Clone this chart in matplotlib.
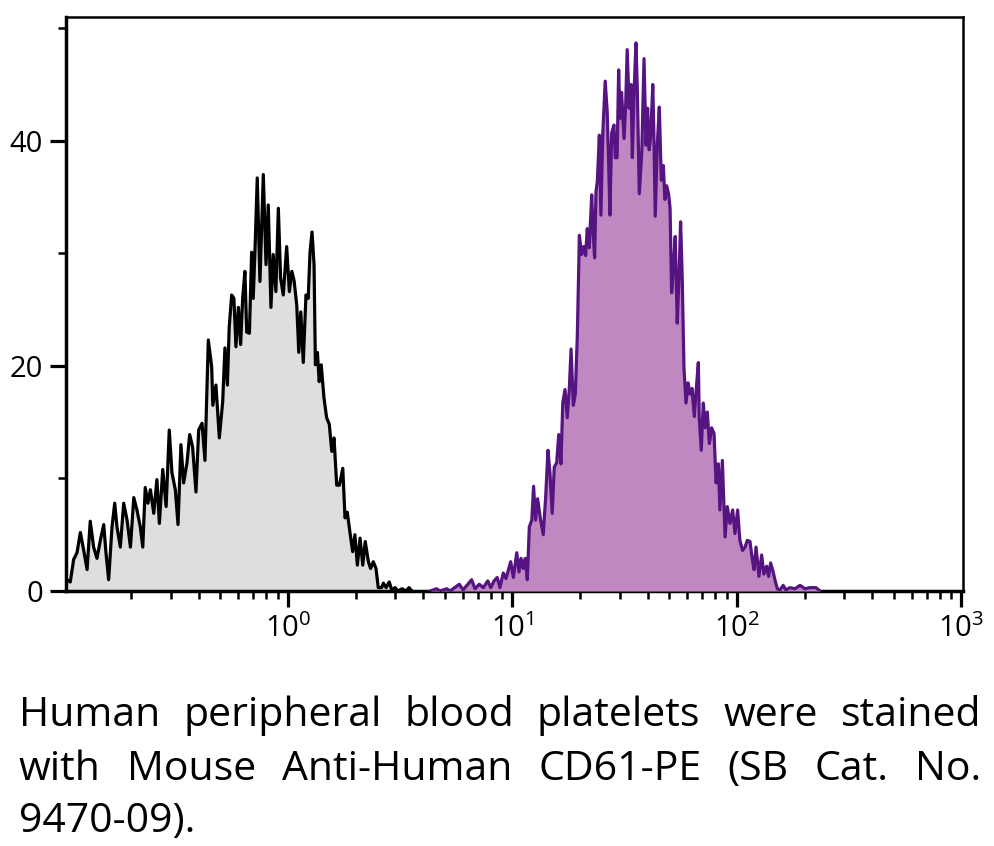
import numpy as np
import matplotlib
matplotlib.use("Agg")
import matplotlib.pyplot as plt
from matplotlib.ticker import LogLocator, FixedLocator, FuncFormatter, NullFormatter

# ---------------- data ----------------
# isotype control (grey) : log10 fluorescence intensity, event count
ctrl_log10 = [-0.989, -0.984, -0.970, -0.955, -0.940, -0.925, -0.910, -0.895, -0.881, -0.866,
              -0.851, -0.836, -0.821, -0.811, -0.799, -0.784, -0.772, -0.762, -0.747, -0.732,
              -0.717, -0.702, -0.687, -0.673, -0.658, -0.647, -0.636, -0.624, -0.613, -0.598,
              -0.584, -0.573, -0.558, -0.543, -0.529, -0.517, -0.502, -0.490, -0.477, -0.465,
              -0.450, -0.438, -0.425, -0.410, -0.398, -0.383, -0.370, -0.355, -0.340, -0.335,
              -0.321, -0.306, -0.291, -0.281, -0.270, -0.262, -0.251, -0.241, -0.232, -0.221,
              -0.211, -0.202, -0.192, -0.184, -0.172, -0.162, -0.155, -0.147, -0.137, -0.125,
              -0.110, -0.098, -0.088, -0.076, -0.066, -0.054, -0.043, -0.033, -0.021, -0.006,
              0.006, 0.017, 0.027, 0.039, 0.048, 0.057, 0.068, 0.080, 0.090, 0.098,
              0.107, 0.116, 0.122, 0.131, 0.139, 0.148, 0.160, 0.172, 0.184, 0.195,
              0.205, 0.217, 0.229, 0.244, 0.254, 0.264, 0.276, 0.288, 0.298, 0.309,
              0.321, 0.333, 0.344, 0.358, 0.368, 0.380, 0.392, 0.402, 0.417, 0.425,
              0.437, 0.451, 0.462, 0.477, 0.490, 0.508, 0.526, 0.539, 0.552]
ctrl_count = [1.0, 1.0, 0.8, 2.8, 3.4, 5.2, 3.6, 1.9, 6.2, 3.9,
              2.9, 4.5, 5.9, 3.4, 1.0, 5.7, 7.8, 5.7, 3.9, 7.8,
              6.3, 3.9, 8.3, 7.2, 5.7, 3.9, 9.2, 7.8, 9.0, 6.9,
              9.9, 6.0, 10.8, 7.5, 14.3, 10.5, 9.0, 5.9, 13.0, 9.6,
              11.4, 13.9, 12.8, 8.8, 14.3, 14.9, 11.6, 22.3, 19.9, 16.5,
              18.3, 13.6, 16.8, 21.6, 18.3, 23.4, 26.3, 26.0, 21.7, 25.2,
              21.9, 26.0, 28.4, 23.0, 22.9, 30.1, 26.0, 30.3, 36.7, 27.5,
              37.0, 29.0, 34.3, 25.2, 29.9, 26.6, 34.0, 27.8, 26.3, 30.6,
              26.6, 28.4, 27.6, 25.4, 21.2, 24.8, 20.3, 26.3, 26.0, 30.1,
              31.9, 29.0, 20.1, 21.2, 18.6, 20.1, 17.2, 15.4, 14.8, 12.4,
              13.6, 9.4, 9.4, 10.9, 6.5, 7.0, 5.2, 3.5, 5.0, 2.3,
              4.7, 2.3, 4.4, 2.6, 2.0, 2.6, 2.0, 0.3, 0.3, 0.7,
              0.3, 0.8, 0.1, 0.3, 0.0, 0.2, 0.0, 0.3, 0.0]

# CD61-PE stained platelets (purple)
cd61_log10 = [0.633, 0.662, 0.677, 0.707, 0.722, 0.763, 0.780, 0.818, 0.833, 0.852,
              0.870, 0.890, 0.903, 0.918, 0.932, 0.944, 0.959, 0.971, 0.981, 0.992,
              1.004, 1.019, 1.029, 1.038, 1.048, 1.057, 1.066, 1.075, 1.086, 1.094,
              1.103, 1.112, 1.123, 1.137, 1.148, 1.158, 1.167, 1.177, 1.186, 1.197,
              1.206, 1.216, 1.224, 1.234, 1.244, 1.253, 1.261, 1.271, 1.280, 1.289,
              1.298, 1.308, 1.317, 1.326, 1.333, 1.342, 1.353, 1.359, 1.366, 1.372,
              1.378, 1.387, 1.394, 1.402, 1.413, 1.422, 1.429, 1.434, 1.442, 1.452,
              1.458, 1.466, 1.473, 1.479, 1.486, 1.497, 1.504, 1.511, 1.520, 1.528,
              1.534, 1.541, 1.550, 1.556, 1.565, 1.576, 1.586, 1.595, 1.602, 1.609,
              1.616, 1.625, 1.630, 1.636, 1.645, 1.654, 1.663, 1.672, 1.679, 1.687,
              1.696, 1.702, 1.709, 1.716, 1.725, 1.734, 1.742, 1.749, 1.756, 1.764,
              1.773, 1.782, 1.791, 1.800, 1.810, 1.817, 1.828, 1.832, 1.841, 1.850,
              1.859, 1.868, 1.877, 1.887, 1.898, 1.907, 1.917, 1.924, 1.935, 1.947,
              1.957, 1.969, 1.981, 1.991, 2.003, 2.013, 2.025, 2.036, 2.046, 2.058,
              2.067, 2.076, 2.085, 2.098, 2.110, 2.120, 2.132, 2.141, 2.150, 2.160,
              2.169, 2.180, 2.192, 2.206, 2.218, 2.236, 2.258, 2.281, 2.303, 2.325,
              2.352, 2.370]
cd61_count = [0.0, 0.2, 0.0, 0.2, 0.0, 0.6, 0.1, 1.0, 0.2, 0.6,
              0.3, 0.9, 0.3, 0.9, 1.2, 0.3, 1.6, 1.1, 1.8, 2.6,
              1.2, 3.4, 1.7, 2.9, 2.0, 2.9, 1.0, 5.7, 6.3, 9.3,
              6.3, 8.2, 6.6, 5.0, 8.4, 12.5, 10.5, 6.9, 11.0, 11.4,
              13.9, 11.3, 16.7, 17.9, 15.4, 17.9, 21.5, 16.5, 17.5, 22.8,
              31.6, 29.9, 30.6, 29.8, 32.2, 30.5, 35.2, 32.0, 29.6, 35.5,
              36.4, 40.5, 33.4, 40.5, 45.3, 42.6, 37.6, 33.4, 40.7, 41.4,
              38.5, 38.5, 46.3, 42.0, 44.3, 40.2, 43.0, 48.1, 42.9, 45.0,
              38.5, 44.0, 48.7, 44.7, 35.3, 39.0, 47.3, 39.6, 42.9, 39.2,
              40.5, 45.0, 40.5, 33.3, 39.6, 43.0, 36.5, 37.8, 34.8, 36.0,
              35.2, 34.0, 26.5, 28.5, 31.5, 23.8, 28.0, 32.8, 28.0, 19.8,
              16.7, 18.5, 17.5, 18.0, 15.5, 17.5, 20.3, 15.4, 12.5, 16.7,
              14.5, 15.9, 13.1, 14.5, 14.0, 9.6, 11.3, 7.2, 11.6, 4.8,
              7.5, 6.0, 7.2, 5.1, 7.2, 4.5, 3.6, 3.9, 4.5, 4.4,
              3.0, 1.9, 3.9, 1.3, 3.2, 1.5, 2.2, 1.3, 2.5, 1.8,
              1.0, 0.2, 0.1, 0.5, 0.1, 0.3, 0.2, 0.5, 0.2, 0.3,
              0.3, 0.0]

y_major = [0, 20, 40]
y_minor = [10, 30, 50]
caption_lines = ["Human peripheral blood platelets were stained",
                 "with Mouse Anti-Human CD61-PE (SB Cat. No.",
                 "9470-09)."]

# ---------------- styling ----------------
FONT = ['Open Sans', 'DejaVu Sans']
plt.rcParams['font.family'] = FONT
plt.rcParams['mathtext.fontset'] = 'custom'
plt.rcParams['mathtext.rm'] = 'Open Sans'
plt.rcParams['mathtext.it'] = 'Open Sans:italic'
plt.rcParams['mathtext.bf'] = 'Open Sans:bold'

W, H = 994, 846
fig = plt.figure(figsize=(W / 100, H / 100), dpi=100)
ax = fig.add_axes([66 / W, 1 - 591 / H, (963 - 66) / W, (591 - 17) / H])

ctrl_x = 10 ** np.array(ctrl_log10)
cd61_x = 10 ** np.array(cd61_log10)

ax.fill_between(ctrl_x, ctrl_count, 0, color='#DEDEDE', lw=0, zorder=1)
ax.plot(ctrl_x, ctrl_count, color='black', lw=2.3, zorder=2)
ax.fill_between(cd61_x, cd61_count, 0, color='#C088C0', lw=0, zorder=3)
ax.plot(cd61_x, cd61_count, color='#561482', lw=2.3, zorder=4)

ax.set_xscale('log')
ax.set_xlim(10 ** -0.989, 10 ** 3.007)
ax.set_ylim(0, 51)

ax.xaxis.set_major_locator(FixedLocator([1, 10, 100, 1000]))
ax.xaxis.set_minor_locator(LogLocator(base=10, subs=np.arange(2, 10), numticks=30))
ax.xaxis.set_major_formatter(FuncFormatter(lambda v, p: r'$\mathregular{10^{%d}}$' % round(np.log10(v))))
ax.xaxis.set_minor_formatter(NullFormatter())
ax.yaxis.set_major_locator(FixedLocator(y_major))
ax.yaxis.set_minor_locator(FixedLocator(y_minor))

ax.tick_params(axis='both', which='major', direction='out', length=11.5, width=2.3,
               labelsize=21, color='black')
ax.tick_params(axis='both', which='minor', direction='out', length=5.5, width=1.8, color='black')
ax.tick_params(axis='y', which='major', pad=5)
ax.tick_params(axis='x', which='major', pad=5)

for s in ['left', 'bottom']:
    ax.spines[s].set_linewidth(2.5)
for s in ['top', 'right']:
    ax.spines[s].set_linewidth(1.8)

# ---------------- justified caption ----------------
fig.canvas.draw()
renderer = fig.canvas.get_renderer()
left_px, right_px = 19, 981
baselines = [726, 780, 832]
cap_size = 29.5
for i, line in enumerate(caption_lines):
    words = line.split(' ')
    texts = [fig.text(0, 0, w, fontsize=cap_size, family=FONT, va='baseline', ha='left')
             for w in words]
    widths = [t.get_window_extent(renderer).width for t in texts]
    y = 1 - baselines[i] / H
    if i < len(caption_lines) - 1 and len(words) > 1:
        gap = (right_px - left_px - sum(widths)) / (len(words) - 1)
    else:
        gap = cap_size * 100 / 72 * 0.26
    x = left_px
    for t, w in zip(texts, widths):
        t.set_position((x / W, y))
        x += w + gap

fig.savefig('out.png', dpi=100)
